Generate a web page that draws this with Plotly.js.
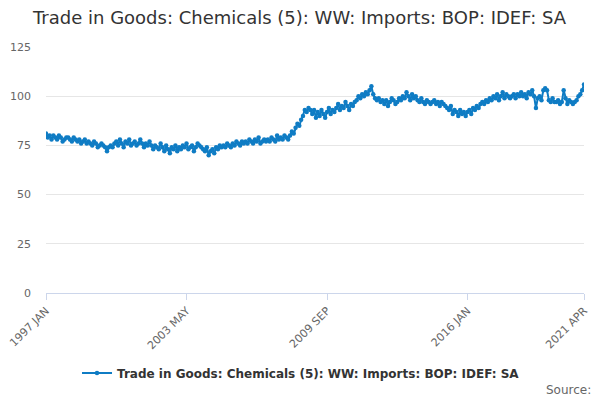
<!DOCTYPE html>
<html>
<head>
<meta charset="utf-8">
<script src="https://cdn.plot.ly/plotly-3.0.1.min.js"></script>
<style>
  html, body { margin: 0; padding: 0; background: #fff; }
  #chart { width: 600px; height: 400px; }
</style>
</head>
<body>
<div id="chart"></div>
<script>
// 월간 지수 (1997 JAN – 2021 APR), 그림에서 읽은 값
const MONTHS = ['JAN', 'FEB', 'MAR', 'APR', 'MAY', 'JUN', 'JUL', 'AUG', 'SEP', 'OCT', 'NOV', 'DEC'];
const YEARS = [1997, 1998, 1999, 2000, 2001, 2002, 2003, 2004, 2005, 2006, 2007, 2008,
  2009, 2010, 2011, 2012, 2013, 2014, 2015, 2016, 2017, 2018, 2019, 2020, 2021];

const v1997 = [81, 79, 80, 78, 80, 79, 78, 80, 79, 77, 78, 79];
const v1998 = [79, 78, 77, 79, 78, 77, 78, 76, 77, 78, 76, 77];
const v1999 = [76, 75, 77, 76, 74, 75, 76, 75, 74, 72, 74, 75];
const v2000 = [74, 76, 77, 75, 78, 76, 74, 77, 76, 78, 75, 76];
const v2001 = [77, 75, 76, 78, 76, 74, 76, 75, 77, 75, 73, 75];
const v2002 = [74, 73, 76, 74, 72, 75, 73, 71, 74, 73, 75, 72];
const v2003 = [74, 73, 75, 74, 76, 73, 74, 75, 72, 74, 76, 75];
const v2004 = [74, 73, 72, 74, 70, 72, 73, 71, 74, 73, 75, 74];
const v2005 = [75, 74, 76, 75, 74, 76, 75, 77, 76, 75, 77, 76];
const v2006 = [77, 76, 78, 77, 76, 78, 77, 79, 76, 77, 78, 77];
const v2007 = [78, 77, 79, 78, 77, 80, 78, 79, 78, 80, 79, 78];
const v2008 = [80, 82, 81, 84, 86, 85, 88, 90, 93, 92, 94, 93];
const v2009 = [91, 93, 89, 92, 90, 93, 91, 89, 92, 94, 91, 93];
const v2010 = [92, 94, 96, 93, 95, 94, 97, 95, 93, 96, 95, 97];
const v2011 = [98, 100, 99, 101, 100, 102, 101, 103, 105, 101, 99, 98];
const v2012 = [99, 97, 98, 96, 98, 95, 97, 99, 98, 96, 97, 99];
const v2013 = [98, 100, 99, 102, 100, 98, 101, 99, 100, 98, 97, 99];
const v2014 = [97, 96, 98, 97, 96, 97, 98, 96, 97, 95, 97, 96];
const v2015 = [95, 94, 93, 95, 91, 93, 92, 90, 93, 91, 92, 90];
const v2016 = [92, 93, 91, 94, 93, 95, 94, 96, 97, 96, 98, 97];
const v2017 = [99, 98, 100, 99, 101, 98, 100, 102, 99, 101, 100, 99];
const v2018 = [100, 101, 99, 101, 100, 102, 100, 101, 99, 102, 101, 103];
const v2019 = [100, 94, 99, 100, 98, 103, 104, 103, 98, 97, 99, 97];
const v2020 = [97, 98, 96, 97, 103, 99, 96, 98, 97, 96, 97, 98];
const v2021 = [100, 101, 103, 106];

const TICKS = ['1997 JAN', '2003 MAY', '2009 SEP', '2016 JAN', '2021 APR'];
const SERIES_NAME = 'Trade in Goods: Chemicals (5): WW: Imports: BOP: IDEF: SA';

const BLUE = '#0f7cc4';
const FONT = '"DejaVu Sans", "Lucida Grande", sans-serif';

const values = [].concat(v1997, v1998, v1999, v2000, v2001, v2002, v2003, v2004, v2005,
  v2006, v2007, v2008, v2009, v2010, v2011, v2012, v2013, v2014, v2015, v2016, v2017,
  v2018, v2019, v2020, v2021);
const labels = [];
YEARS.forEach(y => MONTHS.forEach(m => labels.push(`${y} ${m}`)));
labels.length = values.length;

const trace = {
  x: labels, y: values, name: SERIES_NAME, type: 'scatter', mode: 'lines+markers',
  line: { color: BLUE, width: 2 }, marker: { color: BLUE, size: 4.5 },
};

const layout = {
  width: 600, height: 400,
  paper_bgcolor: '#fff', plot_bgcolor: '#fff',
  font: { family: FONT, color: '#666', size: 11 },
  title: {
    text: SERIES_NAME, font: { family: FONT, size: 18, color: '#333' },
    xref: 'container', x: 0.055, xanchor: 'left', yref: 'container', y: 0.955, yanchor: 'middle',
  },
  margin: { l: 46, r: 16, t: 47, b: 107 },
  xaxis: {
    type: 'category', range: [0, values.length - 1],
    tickmode: 'array', tickvals: TICKS, ticktext: TICKS, tickangle: -45,
    ticks: 'outside', ticklen: 6, tickcolor: '#ccd6eb',
    showline: true, linecolor: '#ccd6eb', linewidth: 1,
    showgrid: false, zeroline: false, tickfont: { size: 11, color: '#666' },
  },
  yaxis: {
    range: [0, 125], tickvals: [0, 25, 50, 75, 100, 125],
    gridcolor: '#e6e6e6', zeroline: false, showline: false,
    tickfont: { size: 11, color: '#666' }, ticklabelstandoff: 14,
  },
  showlegend: true,
  legend: {
    orientation: 'h', x: 0.474, xanchor: 'center', y: -0.325, yanchor: 'middle',
    font: { family: FONT, size: 12, color: '#333', weight: 'bold' },
  },
  annotations: [{
    text: 'Source:', xref: 'paper', yref: 'paper', x: 1.017, xanchor: 'right',
    y: -0.394, yanchor: 'middle', showarrow: false, font: { family: FONT, size: 12, color: '#666' },
  }],
};

Plotly.newPlot('chart', [trace], layout, { displayModeBar: false, staticPlot: true });
</script>
</body>
</html>
